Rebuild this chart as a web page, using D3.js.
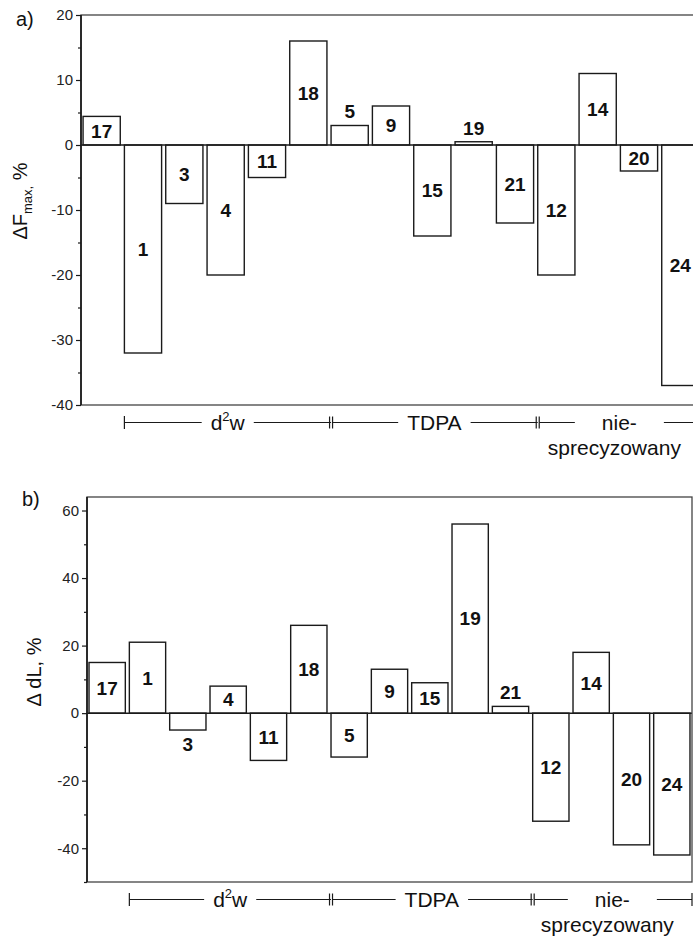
<!DOCTYPE html>
<html>
<head>
<meta charset="utf-8">
<script src="https://cdn.jsdelivr.net/npm/d3@7"></script>
<style>
  body { margin: 0; background: #fff; }
  svg { display: block; font-family: Arial, "Liberation Sans", sans-serif; }
</style>
</head>
<body>
<svg id="chart" width="693" height="936"></svg>
<script>
// Sample numbers, in plotting order
const samples = ["17", "1", "3", "4", "11", "18", "5", "9", "15", "19", "21", "12", "14", "20", "24"];
// a) change of maximum force, %
const deltaFmax = [4.4, -32, -9, -20, -5, 16, 3, 6, -14, 0.5, -12, -20, 11, -4, -37];
// b) change of dL, %
const deltaDL = [15, 21, -5, 8, -14, 26, -13, 13, 9, 56, 2, -32, 18, -39, -42];

// Tick values
const ticksA = [-40, -30, -20, -10, 0, 10, 20];
const minorA = [-35, -25, -15, -5, 5, 15];
const ticksB = [-40, -20, 0, 20, 40, 60];
const minorB = [-50, -30, -10, 10, 30, 50];

// Method groups along the x axis (first sample of each group)
const groupNames = [["d", "2", "w"], ["TDPA"], ["nie-", "sprecyzowany"]];
const groupFirst = ["1", "5", "12"];

const svg = d3.select("#chart");
const ink = "#1a1a1a";

function drawPanel(cfg) {
  const x = d3.scaleBand().domain(samples).range([cfg.left, cfg.right])
    .paddingInner(0.1).paddingOuter(0.05);
  const y = d3.scaleLinear().domain(cfg.domain).range([cfg.bottom, cfg.top]);
  const g = svg.append("g");

  // bars
  const data = samples.map((s, i) => ({ s, v: cfg.values[i] }));
  g.selectAll("rect.bar").data(data).join("rect")
    .attr("class", "bar")
    .attr("x", d => x(d.s))
    .attr("width", x.bandwidth())
    .attr("y", d => y(Math.max(0, d.v)))
    .attr("height", d => Math.abs(y(d.v) - y(0)))
    .attr("fill", "#fff")
    .attr("stroke", ink)
    .attr("stroke-width", 1.4);

  // zero line
  g.append("line")
    .attr("x1", cfg.left).attr("x2", cfg.right)
    .attr("y1", y(0)).attr("y2", y(0))
    .attr("stroke", ink).attr("stroke-width", 1.5);

  // frame
  g.append("rect")
    .attr("x", cfg.left).attr("y", cfg.top)
    .attr("width", cfg.right - cfg.left).attr("height", cfg.bottom - cfg.top)
    .attr("fill", "none").attr("stroke", "#444").attr("stroke-width", 1.3);
  g.append("line")
    .attr("x1", cfg.left).attr("x2", cfg.left)
    .attr("y1", cfg.top).attr("y2", cfg.bottom)
    .attr("stroke", ink).attr("stroke-width", 1.7);

  // value labels
  g.selectAll("text.val").data(data).join("text")
    .attr("class", "val")
    .attr("x", d => x(d.s) + x.bandwidth() / 2)
    .attr("y", d => {
      const h = Math.abs(y(d.v) - y(0));
      if (h < 22) return d.v >= 0 ? y(d.v) - 14 : y(d.v) + 14;
      return (y(d.v) + y(0)) / 2;
    })
    .attr("dy", "0.36em")
    .attr("text-anchor", "middle")
    .attr("font-weight", "bold")
    .attr("font-size", 19)
    .attr("fill", "#111")
    .text(d => d.s);

  // y axis: major and minor ticks
  const major = g.append("g").attr("transform", `translate(${cfg.left},0)`)
    .call(d3.axisLeft(y).tickValues(cfg.ticks).tickSize(5).tickPadding(3).tickFormat(d => String(d)));
  major.select(".domain").remove();
  major.selectAll("line").attr("stroke", ink).attr("stroke-width", 1.2);
  major.selectAll("text").attr("font-size", 15).attr("fill", "#222")
    .attr("font-family", "Arial, 'Liberation Sans', sans-serif");
  const minor = g.append("g").attr("transform", `translate(${cfg.left},0)`)
    .call(d3.axisLeft(y).tickValues(cfg.minor).tickSize(3).tickFormat(""));
  minor.select(".domain").remove();
  minor.selectAll("line").attr("stroke", ink).attr("stroke-width", 1.2);

  // axis title
  const t = g.append("text")
    .attr("transform", `translate(${cfg.titleX},${cfg.titleY}) rotate(-90)`)
    .attr("text-anchor", "middle")
    .attr("font-size", 20)
    .attr("fill", "#111");
  cfg.title(t);

  // panel letter
  g.append("text").attr("x", cfg.letterX).attr("y", cfg.letterY)
    .attr("font-size", 20).attr("fill", "#111").text(cfg.letter);

  // method brackets below the axis
  const by = cfg.bottom + 17.5;
  const bg = g.append("g").attr("stroke", ink).attr("stroke-width", 1.2);
  const vt = (xx, h) => bg.append("line").attr("x1", xx).attr("x2", xx)
    .attr("y1", by - h / 2).attr("y2", by + h / 2);
  const seg = (a, b) => { if (b > a) bg.append("line").attr("x1", a).attr("x2", b).attr("y1", by).attr("y2", by); };

  groupNames.forEach((name, k) => {
    const x0 = x(groupFirst[k]);
    const x1 = k < groupNames.length - 1 ? x(groupFirst[k + 1]) : cfg.right;
    const mid = (x0 + x1) / 2;
    const lbl = g.append("text")
      .attr("x", mid).attr("y", by + 7)
      .attr("text-anchor", "middle").attr("font-size", 21).attr("fill", "#111");
    let gap = 9;
    if (name.length === 3) {
      lbl.append("tspan").text(name[0]);
      lbl.append("tspan").attr("font-size", 13).attr("dy", -9).text(name[1]);
      lbl.append("tspan").attr("dy", 9).text(name[2]);
    } else if (name.length === 2) {
      lbl.text(name[0]);
      g.append("text").attr("x", mid - 5).attr("y", by + 32)
        .attr("text-anchor", "middle").attr("font-size", 21).attr("fill", "#111").text(name[1]);
      gap = 27;
    } else {
      lbl.text(name[0]);
    }
    const w = lbl.node().getComputedTextLength();
    seg(k === 0 ? x0 : x0 + 1.5, mid - w / 2 - gap);
    seg(mid + w / 2 + gap, x1);
    if (k === 0) vt(x0, 13);
    else { vt(x0 - 1.5, 12); vt(x0 + 1.5, 12); }
  });
  vt(cfg.right, 13);
}

drawPanel({
  left: 81, right: 701, top: 15, bottom: 405,
  domain: [-40, 20], values: deltaFmax, ticks: ticksA, minor: minorA,
  titleX: 27, titleY: 201,
  title: t => {
    t.append("tspan").text("\u0394F");
    t.append("tspan").attr("font-size", 13).attr("dy", 5).text("max,");
    t.append("tspan").attr("dy", -5).text(" %");
  },
  letter: "a)", letterX: 16, letterY: 26
});

drawPanel({
  left: 87, right: 692, top: 497, bottom: 882,
  domain: [-50, 64], values: deltaDL, ticks: ticksB, minor: minorB,
  titleX: 41, titleY: 672,
  title: t => t.text("\u0394 dL, %"),
  letter: "b)", letterX: 22, letterY: 506
});
</script>
</body>
</html>
